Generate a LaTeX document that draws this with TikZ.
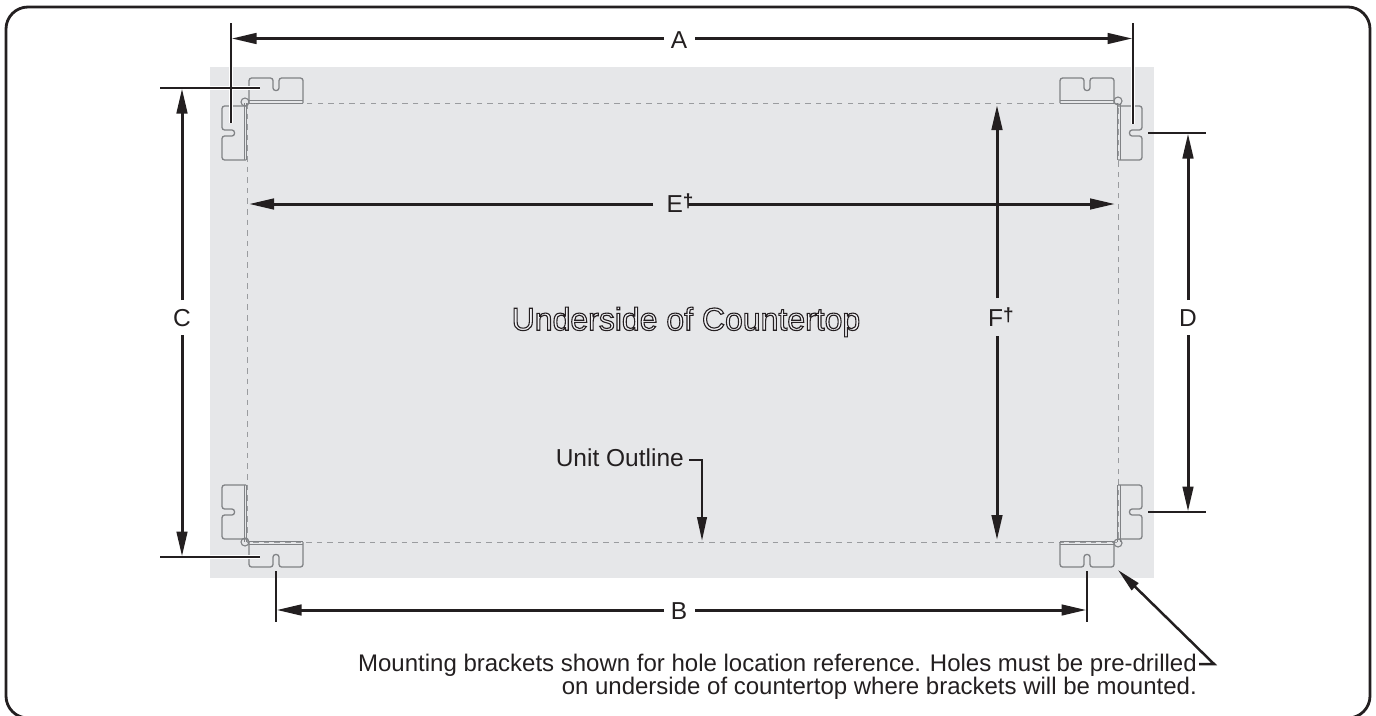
\documentclass[tikz,border=0pt]{standalone}
\usepackage{fontspec}
\setmainfont{Liberation Sans}
\usetikzlibrary{arrows.meta}
\definecolor{ink}{HTML}{231F20}
\definecolor{panel}{HTML}{E6E7E9}
\definecolor{brk}{HTML}{808285}
\definecolor{dashc}{HTML}{9A9C9F}
\newcommand{\mydag}{\raisebox{5pt}{\fontsize{19}{19}\bfseries\selectfont †}}
\tikzset{
  dimline/.style={ink,line width=3pt,-{Triangle[length=25pt,width=10.5pt]}},
  extline/.style={ink,line width=1.2pt},
  halo/.style={white,line width=3.5pt},
  brkline/.style={brk,line width=1.3pt,rounded corners=2.6pt},
  brkflange/.style={brk,line width=.9pt},
  lbl/.style={font=\fontsize{24.5}{25}\selectfont,text=ink,inner sep=0pt},
  note/.style={font=\fontsize{24}{19.5}\selectfont,text=ink,inner sep=0pt,align=right},
  leader/.style={ink,line width=2.5pt,-{Triangle[length=24pt,width=9.5pt]}},
  hbrkt/.pic={
    \draw[brkline] (0,0) -- (0,-25) -- (24,-25) -- (24,-12.5) -- (30,-12.5) -- (30,-25) -- (54,-25) -- (54,0);
    \draw[brkflange] (0,.3) -- (54,.3) (0,-2.2) -- (54,-2.2);
  },
  vbrkt/.pic={
    \draw[brkline] (0,0) -- (-24,0) -- (-24,24) -- (-11.5,24) -- (-11.5,30) -- (-24,30) -- (-24,54) -- (0,54);
    \draw[brkflange] (.6,-3) -- (.6,54) (-2,-3) -- (-2,54);
  }
}
\begin{document}
\begin{tikzpicture}[x=1pt,y=-1pt]
\useasboundingbox (0,0) rectangle (1376,715);
\draw[ink,line width=2.8pt,rounded corners=22pt] (6,7) rectangle (1370,718);
\fill[panel] (210,67) rectangle (1154,578);
\draw[dashc,line width=1pt,dash pattern=on 5.5pt off 5.1pt] (247,103) rectangle (1118,542);
% brackets
\pic at (249,103) {hbrkt};
\pic at (1060,103) {hbrkt};
\pic[yscale=-1] at (249,542) {hbrkt};
\pic[yscale=-1] at (1060,542) {hbrkt};
\pic at (246,106) {vbrkt};
\pic[yscale=-1] at (246,539) {vbrkt};
\pic[xscale=-1] at (1118,106) {vbrkt};
\pic[xscale=-1,yscale=-1] at (1118,539) {vbrkt};
\draw[brk,line width=1.1pt] (245,102) circle (4);
\draw[brk,line width=1.1pt] (1118,101) circle (4);
\draw[brk,line width=1.1pt] (245,542) circle (4);
\draw[brk,line width=1.1pt] (1118,543) circle (4);
% extension lines
\coordinate (aL0) at (231,23); \coordinate (aL1) at (231,123);
\coordinate (aR0) at (1133,23); \coordinate (aR1) at (1133,124);
\coordinate (cT0) at (160,88); \coordinate (cT1) at (260,88);
\coordinate (cB0) at (160,557); \coordinate (cB1) at (260,557);
\coordinate (dT0) at (1148,133); \coordinate (dT1) at (1206,133);
\coordinate (dB0) at (1148,512); \coordinate (dB1) at (1206,512);
\coordinate (bL0) at (276,571); \coordinate (bL1) at (276,622);
\coordinate (bR0) at (1087,571); \coordinate (bR1) at (1087,622);
\draw[halo] (231,67) -- (aL1) (1133,67) -- (aR1) (210,88) -- (cT1) (210,557) -- (cB1);
\draw[extline] (aL0) -- (aL1);
\draw[extline] (aR0) -- (aR1);
\draw[extline] (cT0) -- (cT1);
\draw[extline] (cB0) -- (cB1);
\draw[extline] (dT0) -- (dT1);
\draw[extline] (dB0) -- (dB1);
\draw[extline] (bL0) -- (bL1);
\draw[extline] (bR0) -- (bR1);
% dimension labels
\node[lbl] (lA) at (679,40) {A};
\node[lbl] (lB) at (679,611) {B};
\node[lbl] (lC) at (182,318) {C};
\node[lbl] (lD) at (1188,318) {D};
\node[lbl] (lE) at (680,203) {E\mydag};
\node[lbl] (lF) at (1001,317) {F\mydag};
\coordinate (aA) at (231.5,38.5); \coordinate (bA) at (1132.5,38.5);
\coordinate (aB) at (276.5,610); \coordinate (bB) at (1086.5,610);
\coordinate (aC) at (182,88.5); \coordinate (bC) at (182,556.5);
\coordinate (aD) at (1188,133.5); \coordinate (bD) at (1188,511.5);
\coordinate (aE) at (249,204); \coordinate (bE) at (1115,204);
\coordinate (aF) at (997,105); \coordinate (bF) at (997,540);
\draw[dimline] (664,38.5) -- (aA);
\draw[dimline] (695,38.5) -- (bA);
\draw[dimline] (664,610) -- (aB);
\draw[dimline] (695,610) -- (bB);
\draw[dimline] (182,300) -- (aC);
\draw[dimline] (182,335) -- (bC);
\draw[dimline] (1188,300) -- (aD);
\draw[dimline] (1188,335) -- (bD);
\draw[dimline] (653,204) -- (aE);
\draw[dimline] (688,204) -- (bE);
\draw[dimline] (997,298) -- (aF);
\draw[dimline] (997,336) -- (bF);
% centre title, outlined glyphs
\node[inner sep=0pt,font=\fontsize{32}{32}\selectfont] (title) at (686,322) {\special{pdf:code q 2 Tr 1.1 w 0.14 0.12 0.13 RG 0.95 0.95 0.96 rg}Underside of Countertop\special{pdf:code Q}};
% unit outline
\node[lbl,anchor=east] (unit) at (684,458) {Unit Outline};
\coordinate (uk) at (702,460); \coordinate (ue) at (702,541);
\draw[leader] (unit.east |- uk) ++(5,0) -- (uk) -- (ue);
% note
\node[note,anchor=north east] (mnt) at (1197,654) {Mounting brackets shown for hole location reference. Holes must be pre-drilled\\on underside of countertop where brackets will be mounted.};
\coordinate (mk) at (1214,664); \coordinate (mt) at (1199,664); \coordinate (me) at (1118,570);
\draw[leader] (mt) -- (mk) -- (me);
\end{tikzpicture}
\end{document}
